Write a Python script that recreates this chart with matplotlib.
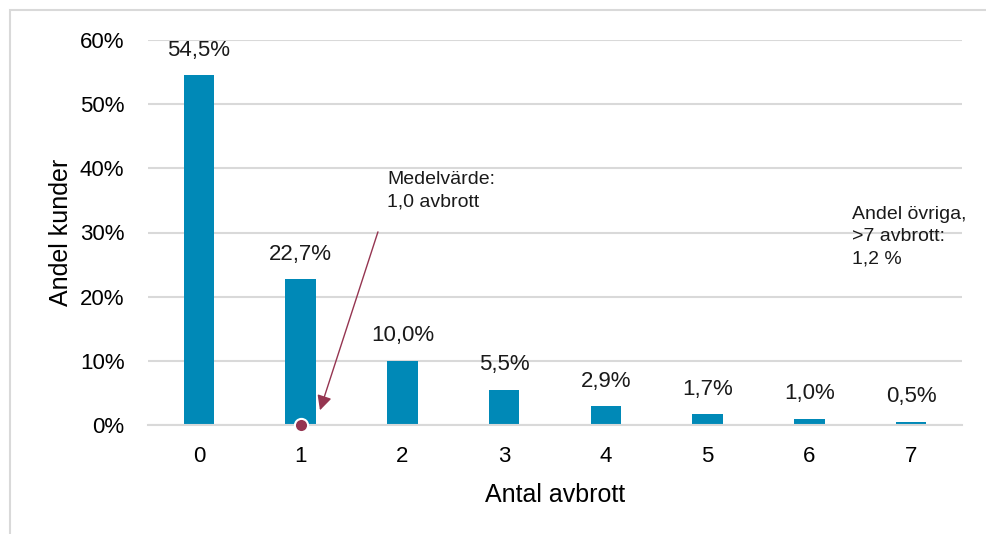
import numpy as np
import matplotlib.pyplot as plt
from matplotlib.patches import Rectangle

# Data
categories = ['0', '1', '2', '3', '4', '5', '6', '7']
shares = [54.5, 22.7, 10.0, 5.5, 2.9, 1.7, 1.0, 0.5]
value_labels = ['54,5%', '22,7%', '10,0%', '5,5%', '2,9%', '1,7%', '1,0%', '0,5%']
mean_value = 1.0
yticks = [0, 10, 20, 30, 40, 50, 60]
ytick_labels = ['0%', '10%', '20%', '30%', '40%', '50%', '60%']

plt.rcParams['font.family'] = ['Liberation Sans', 'DejaVu Sans']

bar_color = '#0089B7'
grid_color = '#D9D9D9'
mean_color = '#953551'

fig = plt.figure(figsize=(9.87, 5.34), dpi=100)
ax = fig.add_axes([148 / 987, 1 - 425 / 534, (962 - 148) / 987, (425 - 40) / 534])

x = np.arange(len(categories))
ax.bar(x, shares, width=0.3, color=bar_color, zorder=2)

for xi, v, lab in zip(x, shares, value_labels):
    ax.annotate(lab, (xi, v), xytext=(0, 18), textcoords='offset points',
                ha='center', va='center', fontsize=16, color='#1a1a1a')

# mean marker
ax.plot([mean_value], [0], 'o', color=mean_color, markersize=9.5,
        markeredgecolor='white', markeredgewidth=1.5, zorder=4, clip_on=False)

ax.annotate('', xy=(1.19, 2.3), xytext=(1.76, 30.1),
            arrowprops=dict(arrowstyle='-|>', color=mean_color, lw=1.0,
                            mutation_scale=22, shrinkA=0, shrinkB=0), zorder=3)
ax.text(1.85, 39.6, 'Medelvärde:\n1,0 avbrott', ha='left', va='top',
        fontsize=14, color='#1a1a1a', linespacing=1.42)
ax.text(6.42, 34.2, 'Andel övriga,\n>7 avbrott:\n1,2 %', ha='left', va='top',
        fontsize=14, color='#1a1a1a', linespacing=1.42)

ax.set_xlim(-0.5, 7.5)
ax.set_ylim(0, 60)
ax.set_xticks(x)
ax.set_xticklabels(categories, fontsize=16)
ax.set_yticks(yticks)
ax.set_yticklabels(ytick_labels, fontsize=16)
ax.tick_params(axis='x', length=0, pad=15)
ax.tick_params(axis='y', length=0, pad=17)
ax.yaxis.grid(True, color=grid_color, lw=1.5, zorder=0)
ax.set_axisbelow(True)
for s in ['top', 'right', 'left']:
    ax.spines[s].set_visible(False)
ax.spines['bottom'].set_color(grid_color)
ax.spines['bottom'].set_linewidth(1.5)

ax.set_xlabel('Antal avbrott', fontsize=18, labelpad=12)
ax.set_ylabel('Andel kunder', fontsize=18, labelpad=5)

# outer frame
fig.patches.append(Rectangle((10 / 987, -0.1), 1.2, 1 - 10 / 534 + 0.1,
                             transform=fig.transFigure, fill=False,
                             edgecolor='#D9D9D9', lw=1.5))

fig.savefig('out.png', dpi=100)
